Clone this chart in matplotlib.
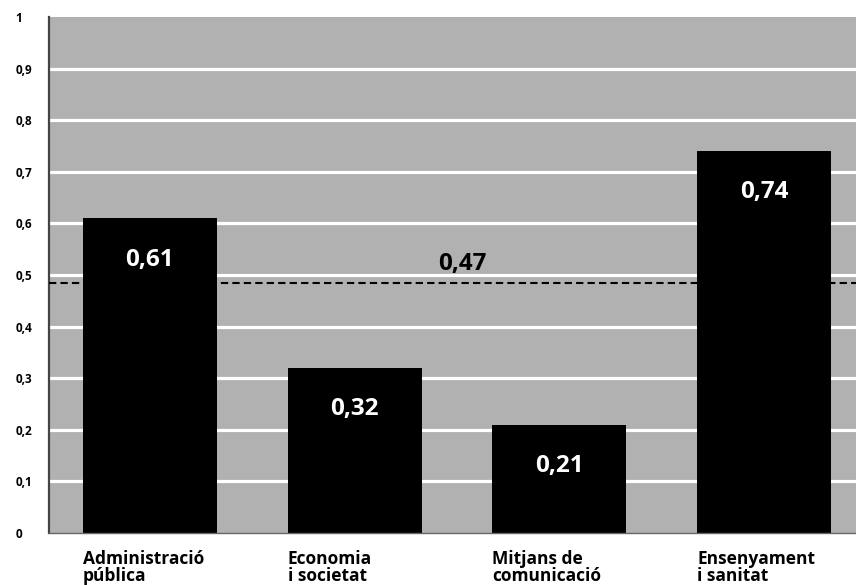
import matplotlib
matplotlib.use("Agg")
import matplotlib.pyplot as plt
import numpy as np

categories = ["Administració\npública", "Economia\ni societat", "Mitjans de\ncomunicació", "Ensenyament\ni sanitat"]
values = [0.61, 0.32, 0.21, 0.74]
value_labels = ["0,61", "0,32", "0,21", "0,74"]
mean_value = 0.47
mean_label = "0,47"
ytick_values = [0, 0.1, 0.2, 0.3, 0.4, 0.5, 0.6, 0.7, 0.8, 0.9, 1]
ytick_labels = ["0", "0,1", "0,2", "0,3", "0,4", "0,5", "0,6", "0,7", "0,8", "0,9", "1"]

FONT = ["Open Sans", "DejaVu Sans"]
plt.rcParams["font.family"] = FONT

W, H = 856, 585
fig = plt.figure(figsize=(W / 100, H / 100), dpi=100)
fig.patch.set_facecolor("white")
ax_left, ax_bottom, ax_top = 49, 533, 17
ax = fig.add_axes([ax_left / W, (H - ax_bottom) / H, 1 - ax_left / W, (ax_bottom - ax_top) / H])
ax.set_facecolor("#b1b1b1")

x = np.arange(len(values))
width = 0.655
ax.set_xlim(-0.493, 3.449)
ax.set_ylim(0, 1.0)

for t in ytick_values[1:-1]:
    ax.axhline(t, color="white", lw=2.3, zorder=1)

ax.bar(x, values, width=width, color="black", zorder=2)

for xi, v, lab in zip(x, values, value_labels):
    ax.text(xi, v - 0.08, lab, color="white", fontsize=17.5, fontweight="bold",
            ha="center", va="center", zorder=3)

ax.axhline(mean_value + 0.014, color="black", lw=1.5, ls=(0, (3.5, 2)), zorder=3)
ax.text(1.524, mean_value + 0.052, mean_label, color="black", fontsize=17.5,
        fontweight="bold", ha="center", va="center", zorder=3)

ax.set_yticks(ytick_values)
ax.set_yticklabels(ytick_labels, fontsize=8.5, fontweight="bold")
ax.tick_params(axis="y", length=0, pad=24)
for lbl in ax.get_yticklabels():
    lbl.set_horizontalalignment("left")
ax.set_xticks([])

for xi, cat in zip(x, categories):
    ax.text(xi - width / 2, -0.033, cat, fontsize=12.5, fontweight="bold",
            ha="left", va="top", linespacing=0.92, clip_on=False)

for s in ["top", "right"]:
    ax.spines[s].set_visible(False)
ax.spines["left"].set_color("#444444")
ax.spines["left"].set_linewidth(1.6)
ax.spines["bottom"].set_color("#666666")
ax.spines["bottom"].set_linewidth(1)

fig.savefig("out.png", dpi=100)
